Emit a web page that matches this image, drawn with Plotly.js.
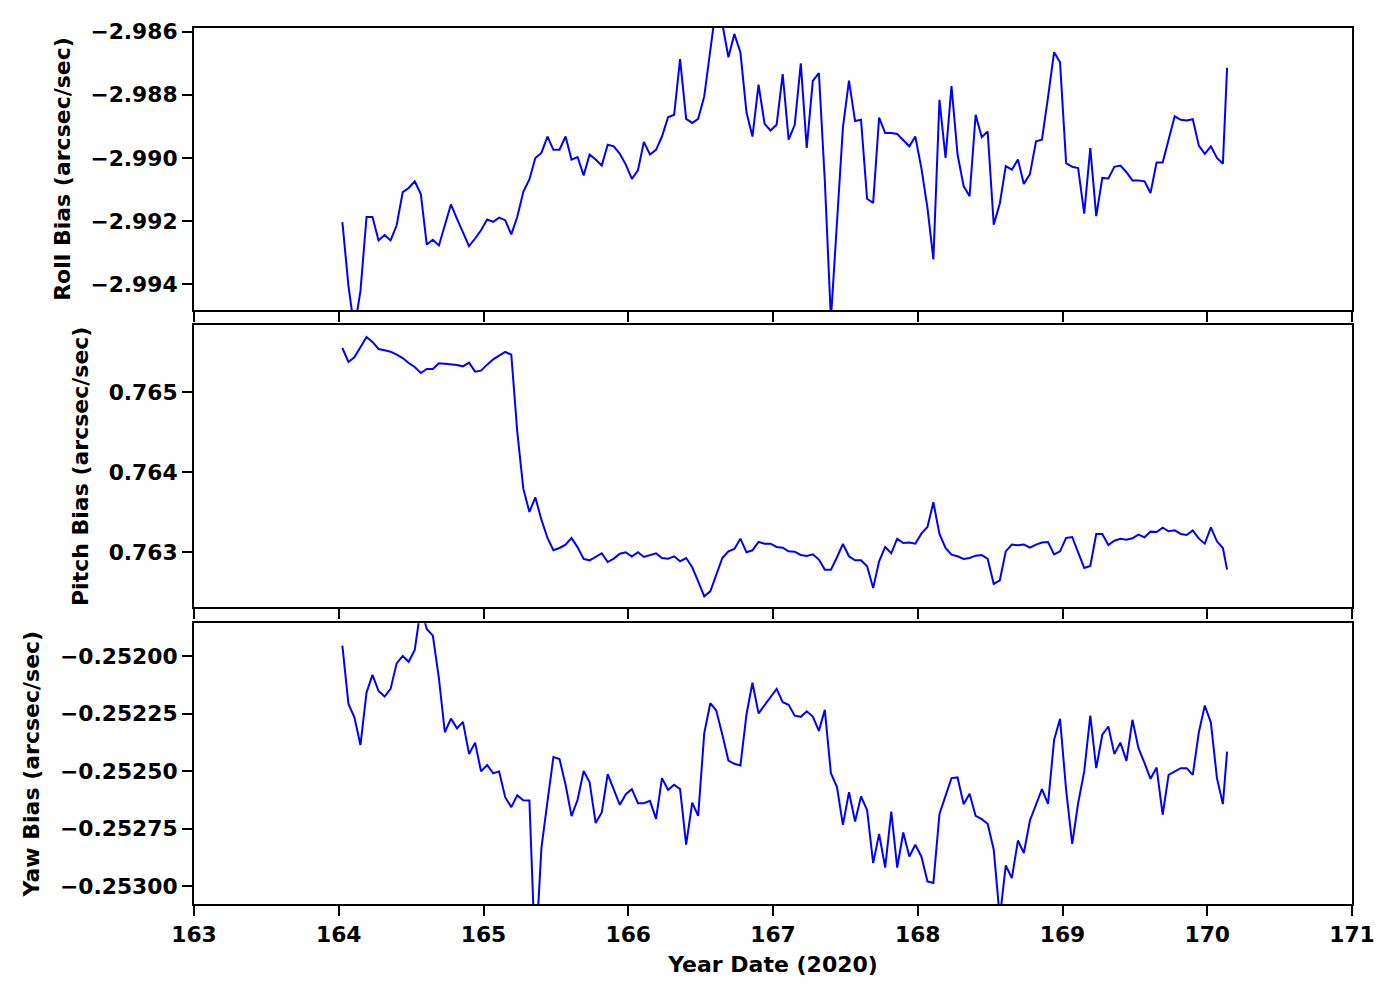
<!DOCTYPE html>
<html>
<head>
<meta charset="utf-8">
<script src="https://cdn.plot.ly/plotly-3.0.1.min.js"></script>
<style>html,body{margin:0;padding:0;background:#fff;}#chart{width:1400px;height:1000px;}</style>
</head>
<body>
<div id="chart"></div>
<script>
// Time stamps (day of year 2020), roughly hourly
const yearDate = [
164.025,164.067,164.108,164.150,164.192,164.233,164.275,164.317,164.358,164.400,164.442,164.483,164.525,164.567,164.608,164.650,164.692,164.733,164.775,164.817,164.858,164.900,164.942,164.983,
165.025,165.067,165.108,165.150,165.192,165.233,165.275,165.317,165.358,165.400,165.442,165.483,165.525,165.567,165.608,165.650,165.692,165.733,165.775,165.817,165.858,165.900,165.942,165.983,
166.025,166.067,166.108,166.150,166.192,166.233,166.275,166.317,166.358,166.400,166.442,166.483,166.525,166.567,166.608,166.650,166.692,166.733,166.775,166.817,166.858,166.900,166.942,166.983,
167.025,167.067,167.108,167.150,167.192,167.233,167.275,167.317,167.358,167.400,167.442,167.483,167.525,167.567,167.608,167.650,167.692,167.733,167.775,167.817,167.858,167.900,167.942,167.983,
168.025,168.067,168.108,168.150,168.192,168.233,168.275,168.317,168.358,168.400,168.442,168.483,168.525,168.567,168.608,168.650,168.692,168.733,168.775,168.817,168.858,168.900,168.942,168.983,
169.025,169.067,169.108,169.150,169.192,169.233,169.275,169.317,169.358,169.400,169.442,169.483,169.525,169.567,169.608,169.650,169.692,169.733,169.775,169.817,169.858,169.900,169.942,169.983,
170.025,170.067,170.108,170.137
];

const rollBias = [
-2.99203,-2.99405,-2.99542,-2.99421,-2.99187,-2.99187,-2.99261,-2.99244,-2.99261,-2.99213,
-2.99108,-2.99095,-2.99074,-2.99114,-2.99274,-2.99259,-2.99277,-2.99211,-2.99147,-2.99193,
-2.99237,-2.99279,-2.99255,-2.99229,-2.99195,-2.99202,-2.99189,-2.99197,-2.99242,-2.99187,
-2.99107,-2.99068,-2.99000,-2.98984,-2.98932,-2.98974,-2.98974,-2.98932,-2.99005,-2.98997,
-2.99055,-2.98989,-2.99005,-2.99024,-2.98958,-2.98963,-2.98987,-2.99021,-2.99066,-2.99039,
-2.98949,-2.98989,-2.98974,-2.98932,-2.98871,-2.98863,-2.98687,-2.98876,-2.98889,-2.98876,
-2.98805,-2.98666,-2.98516,-2.98575,-2.98681,-2.98607,-2.98666,-2.98856,-2.98932,-2.98768,
-2.98892,-2.98913,-2.98895,-2.98734,-2.98942,-2.98895,-2.98700,-2.98968,-2.98756,-2.98731,
-2.99072,-2.99511,-2.99197,-2.98904,-2.98755,-2.98883,-2.98879,-2.99129,-2.99142,-2.98872,
-2.98921,-2.98921,-2.98924,-2.98944,-2.98963,-2.98932,-2.99032,-2.99158,-2.99321,-2.98816,
-2.99000,-2.98772,-2.98989,-2.99089,-2.99121,-2.98863,-2.98934,-2.98916,-2.99211,-2.99144,
-2.99026,-2.99037,-2.99005,-2.99082,-2.99051,-2.98947,-2.98942,-2.98807,-2.98665,-2.98697,
-2.99016,-2.99028,-2.99032,-2.99176,-2.98969,-2.99184,-2.99063,-2.99065,-2.99028,-2.99024,
-2.99045,-2.99071,-2.99071,-2.99074,-2.99111,-2.99014,-2.99014,-2.98942,-2.98868,-2.98879,
-2.98881,-2.98877,-2.98961,-2.98987,-2.98963,-2.99000,-2.99018,-2.98714
];

const pitchBias = [
0.765549,0.765374,0.765432,0.765561,0.765686,0.765624,0.765536,0.765520,0.765503,0.765466,
0.765424,0.765362,0.765312,0.765237,0.765287,0.765287,0.765358,0.765353,0.765349,0.765337,
0.765320,0.765366,0.765254,0.765266,0.765341,0.765407,0.765453,0.765499,0.765466,0.764509,
0.763794,0.763503,0.763686,0.763407,0.763179,0.763025,0.763054,0.763096,0.763179,0.763062,
0.762917,0.762900,0.762942,0.762988,0.762879,0.762921,0.762983,0.763000,0.762946,0.763000,
0.762942,0.762967,0.762988,0.762929,0.762921,0.762950,0.762888,0.762929,0.762813,0.762638,
0.762451,0.762513,0.762721,0.762929,0.763012,0.763042,0.763170,0.763000,0.763025,0.763129,
0.763108,0.763108,0.763067,0.763058,0.763012,0.763008,0.762967,0.762954,0.762975,0.762909,
0.762784,0.762784,0.762938,0.763104,0.762950,0.762900,0.762900,0.762825,0.762555,0.762888,
0.763067,0.762988,0.763170,0.763116,0.763121,0.763108,0.763233,0.763316,0.763624,0.763229,
0.763054,0.762971,0.762950,0.762917,0.762929,0.762958,0.762967,0.762917,0.762605,0.762651,
0.763012,0.763096,0.763087,0.763096,0.763058,0.763096,0.763121,0.763129,0.762975,0.763012,
0.763179,0.763191,0.763000,0.762805,0.762829,0.763229,0.763229,0.763091,0.763145,0.763170,
0.763158,0.763175,0.763220,0.763187,0.763258,0.763254,0.763308,0.763262,0.763274,0.763229,
0.763216,0.763274,0.763170,0.763108,0.763312,0.763137,0.763054,0.762784
];

const yawBias = [
-0.251955,-0.252208,-0.252266,-0.252386,-0.252158,-0.252082,-0.252152,-0.252176,-0.252143,-0.252032,
-0.252000,-0.252025,-0.251974,-0.251790,-0.251883,-0.251912,-0.252097,-0.252331,-0.252272,-0.252314,
-0.252286,-0.252425,-0.252376,-0.252501,-0.252473,-0.252509,-0.252501,-0.252613,-0.252656,-0.252605,
-0.252626,-0.252627,-0.253318,-0.252834,-0.252631,-0.252439,-0.252447,-0.252559,-0.252695,-0.252624,
-0.252499,-0.252548,-0.252725,-0.252679,-0.252513,-0.252578,-0.252646,-0.252600,-0.252578,-0.252639,
-0.252639,-0.252629,-0.252707,-0.252530,-0.252581,-0.252559,-0.252578,-0.252819,-0.252636,-0.252694,
-0.252335,-0.252205,-0.252237,-0.252342,-0.252454,-0.252468,-0.252475,-0.252253,-0.252116,-0.252249,
-0.252212,-0.252176,-0.252143,-0.252201,-0.252212,-0.252259,-0.252264,-0.252240,-0.252263,-0.252325,
-0.252234,-0.252509,-0.252569,-0.252733,-0.252591,-0.252718,-0.252610,-0.252668,-0.252899,-0.252772,
-0.252918,-0.252675,-0.252918,-0.252766,-0.252870,-0.252819,-0.252870,-0.252978,-0.252985,-0.252686,
-0.252610,-0.252530,-0.252527,-0.252643,-0.252598,-0.252694,-0.252708,-0.252728,-0.252841,-0.253137,
-0.252909,-0.252964,-0.252801,-0.252855,-0.252714,-0.252643,-0.252578,-0.252642,-0.252364,-0.252273,
-0.252581,-0.252816,-0.252639,-0.252501,-0.252259,-0.252487,-0.252342,-0.252306,-0.252425,-0.252376,
-0.252455,-0.252277,-0.252400,-0.252465,-0.252533,-0.252484,-0.252689,-0.252516,-0.252501,-0.252487,
-0.252487,-0.252516,-0.252331,-0.252215,-0.252289,-0.252530,-0.252643,-0.252415
];

const xTickVals = [163,164,165,166,167,168,169,170,171];
const rollTicks = [-2.994,-2.992,-2.990,-2.988,-2.986];
const pitchTicks = [0.763,0.764,0.765];
const yawTicks = [-0.25300,-0.25275,-0.25250,-0.25225,-0.25200];

const FONT = 'DejaVu Sans, Liberation Sans, sans-serif';
const tickFont = {family: FONT, size: 21.8, color: '#000', weight: 'bold'};
const titleFont = {family: FONT, size: 22, color: '#000', weight: 'bold'};

function yAxis(domain, range, ticks, fmt, title, anchor) {
  return {
    domain: domain, range: range, anchor: anchor,
    tickmode: 'array', tickvals: ticks, tickformat: fmt,
    ticks: 'outside', ticklen: 10, tickwidth: 2, tickcolor: '#000',
    showline: true, linecolor: '#000', linewidth: 2, mirror: true,
    showgrid: false, zeroline: false,
    tickfont: tickFont,
    title: {text: title, font: titleFont, standoff: 14},
    automargin: false
  };
}
function xAxis(anchor, showLabels, title) {
  const ax = {
    anchor: anchor, domain: [0, 1], range: [163, 171],
    tickmode: 'array', tickvals: xTickVals,
    ticks: 'outside', ticklen: 10, tickwidth: 2, tickcolor: '#000',
    showline: true, linecolor: '#000', linewidth: 2, mirror: true,
    showgrid: false, zeroline: false,
    showticklabels: showLabels,
    tickfont: tickFont,
    automargin: false
  };
  if (title) ax.title = {text: title, font: titleFont, standoff: 10};
  return ax;
}

const lineStyle = {color: '#0000ff', width: 2};
const traces = [
  {x: yearDate, y: rollBias, xaxis: 'x', yaxis: 'y', type: 'scatter', mode: 'lines', line: lineStyle},
  {x: yearDate, y: pitchBias, xaxis: 'x2', yaxis: 'y2', type: 'scatter', mode: 'lines', line: lineStyle},
  {x: yearDate, y: yawBias, xaxis: 'x3', yaxis: 'y3', type: 'scatter', mode: 'lines', line: lineStyle}
];

const layout = {
  width: 1400, height: 1000,
  margin: {l: 194, r: 48, t: 28, b: 96},
  paper_bgcolor: '#fff', plot_bgcolor: '#fff',
  showlegend: false,
  xaxis: xAxis('y', false),
  xaxis2: Object.assign(xAxis('y2', false), {matches: 'x'}),
  xaxis3: Object.assign(xAxis('y3', true, 'Year Date (2020)'), {matches: 'x'}),
  yaxis: yAxis([0.67808, 1], [-2.994814, -2.985883], rollTicks, '.3f', 'Roll Bias (arcsec/sec)', 'x'),
  yaxis2: yAxis([0.33870, 0.66062], [0.762314, 0.765832], pitchTicks, '.3f', 'Pitch Bias (arcsec/sec)', 'x2'),
  yaxis3: yAxis([0, 0.32043], [-0.2530763, -0.2518583], yawTicks, '.5f', 'Yaw Bias (arcsec/sec)', 'x3')
};

Plotly.newPlot('chart', traces, layout, {displayModeBar: false, staticPlot: true});
</script>
</body>
</html>
